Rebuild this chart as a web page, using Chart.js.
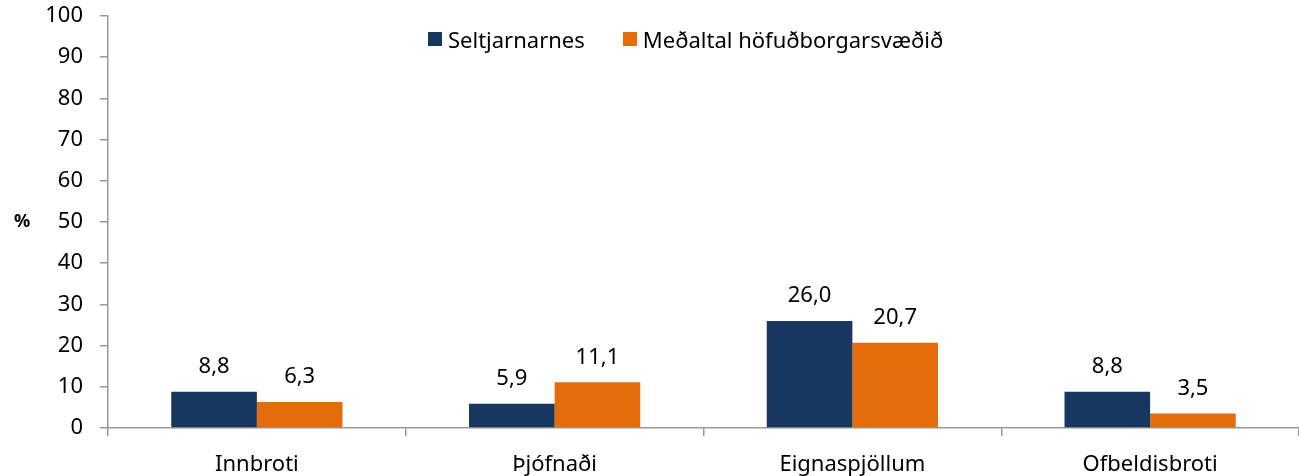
<!DOCTYPE html>
<html>
<head>
<meta charset="utf-8">
<script src="https://cdn.jsdelivr.net/npm/chart.js@4"></script>
<style>
  html, body { margin: 0; padding: 0; background: #fff; }
  #wrap { width: 1299px; height: 476px; position: relative; }
  #legend {
    position: absolute; top: 24px; left: 428px;
    display: flex; align-items: center;
    font-family: 'Noto Sans', 'Open Sans', sans-serif; font-size: 22px; color: #000;
  }
  #legend .item { display: flex; align-items: center; margin-right: 38px; }
  #legend .box { width: 14px; height: 14px; margin-right: 6px; }
</style>
</head>
<body>
<div id="wrap"><canvas id="chart"></canvas><div id="legend"></div></div>
<script>
const categories = ["Innbroti", "Þjófnaði", "Eignaspjöllum", "Ofbeldisbroti"];
const seltjarnarnes = [8.8, 5.9, 26.0, 8.8];
const hofudborgarsvaedid = [6.3, 11.1, 20.7, 3.5];
const seriesNames = ["Seltjarnarnes", "Meðaltal höfuðborgarsvæðið"];
const seriesColors = ["#17375e", "#e46c0a"];
const yTicks = [0, 10, 20, 30, 40, 50, 60, 70, 80, 90, 100];

const FONT = "'Noto Sans', 'Open Sans', sans-serif";
Chart.defaults.font.family = FONT;
Chart.defaults.color = "#000";

// value labels above the bars, with a decimal comma
const valueLabels = {
  id: "valueLabels",
  afterDatasetsDraw(chart) {
    const ctx = chart.ctx;
    ctx.save();
    ctx.font = "22px " + FONT;
    ctx.fillStyle = "#000";
    ctx.textAlign = "center";
    ctx.textBaseline = "middle";
    chart.data.datasets.forEach((ds, i) => {
      chart.getDatasetMeta(i).data.forEach((bar, j) => {
        ctx.fillText(ds.data[j].toFixed(1).replace(".", ","), bar.x, bar.y - 25);
      });
    });
    ctx.restore();
  },
};

// the "%" unit left of the y axis
const unitLabel = {
  id: "unitLabel",
  afterDraw(chart) {
    const ctx = chart.ctx;
    const y = chart.scales.y;
    ctx.save();
    ctx.font = "bold 18px " + FONT;
    ctx.fillStyle = "#000";
    ctx.textAlign = "center";
    ctx.textBaseline = "middle";
    ctx.fillText("%", 22, (y.top + y.bottom) / 2);
    ctx.restore();
  },
};

// legend as html, same order and colours as the datasets
document.getElementById("legend").innerHTML = seriesNames
  .map((n, i) => `<div class="item"><div class="box" style="background:${seriesColors[i]}"></div>${n}</div>`)
  .join("");

var ctx = document.getElementById("chart").getContext("2d");
var myChart = new Chart(ctx, {
  type: "bar",
  data: {
    labels: categories,
    datasets: [
      {
        label: seriesNames[0],
        data: seltjarnarnes,
        backgroundColor: seriesColors[0],
        categoryPercentage: 0.575,
        barPercentage: 1,
      },
      {
        label: seriesNames[1],
        data: hofudborgarsvaedid,
        backgroundColor: seriesColors[1],
        categoryPercentage: 0.575,
        barPercentage: 1,
      },
    ],
  },
  options: {
    responsive: true,
    maintainAspectRatio: false,
    animation: false,
    layout: { padding: { top: 16, right: 0, left: 0, bottom: 0 } },
    plugins: {
      tooltip: { enabled: false },
      legend: { display: false },
    },
    scales: {
      x: {
        grid: {
          display: true,
          drawOnChartArea: false,
          color: "#999",
          tickLength: 8,
          lineWidth: 1.5,
        },
        border: { color: "#999", width: 1.5 },
        ticks: { font: { size: 22 }, padding: 16, color: "#000" },
        afterFit(scale) { scale.height = 48; },
      },
      y: {
        min: 0,
        max: 100,
        afterBuildTicks(scale) { scale.ticks = yTicks.map((v) => ({ value: v })); },
        grid: {
          display: true,
          drawOnChartArea: false,
          color: "#999",
          tickLength: 8,
          lineWidth: 1.5,
        },
        border: { color: "#999", width: 1.5 },
        ticks: { font: { size: 22 }, padding: 17, color: "#000" },
        afterFit(scale) {
          scale.width = 108;
          scale.paddingTop = 0;
        },
      },
    },
  },
  plugins: [valueLabels, unitLabel],
});
</script>
</body>
</html>
